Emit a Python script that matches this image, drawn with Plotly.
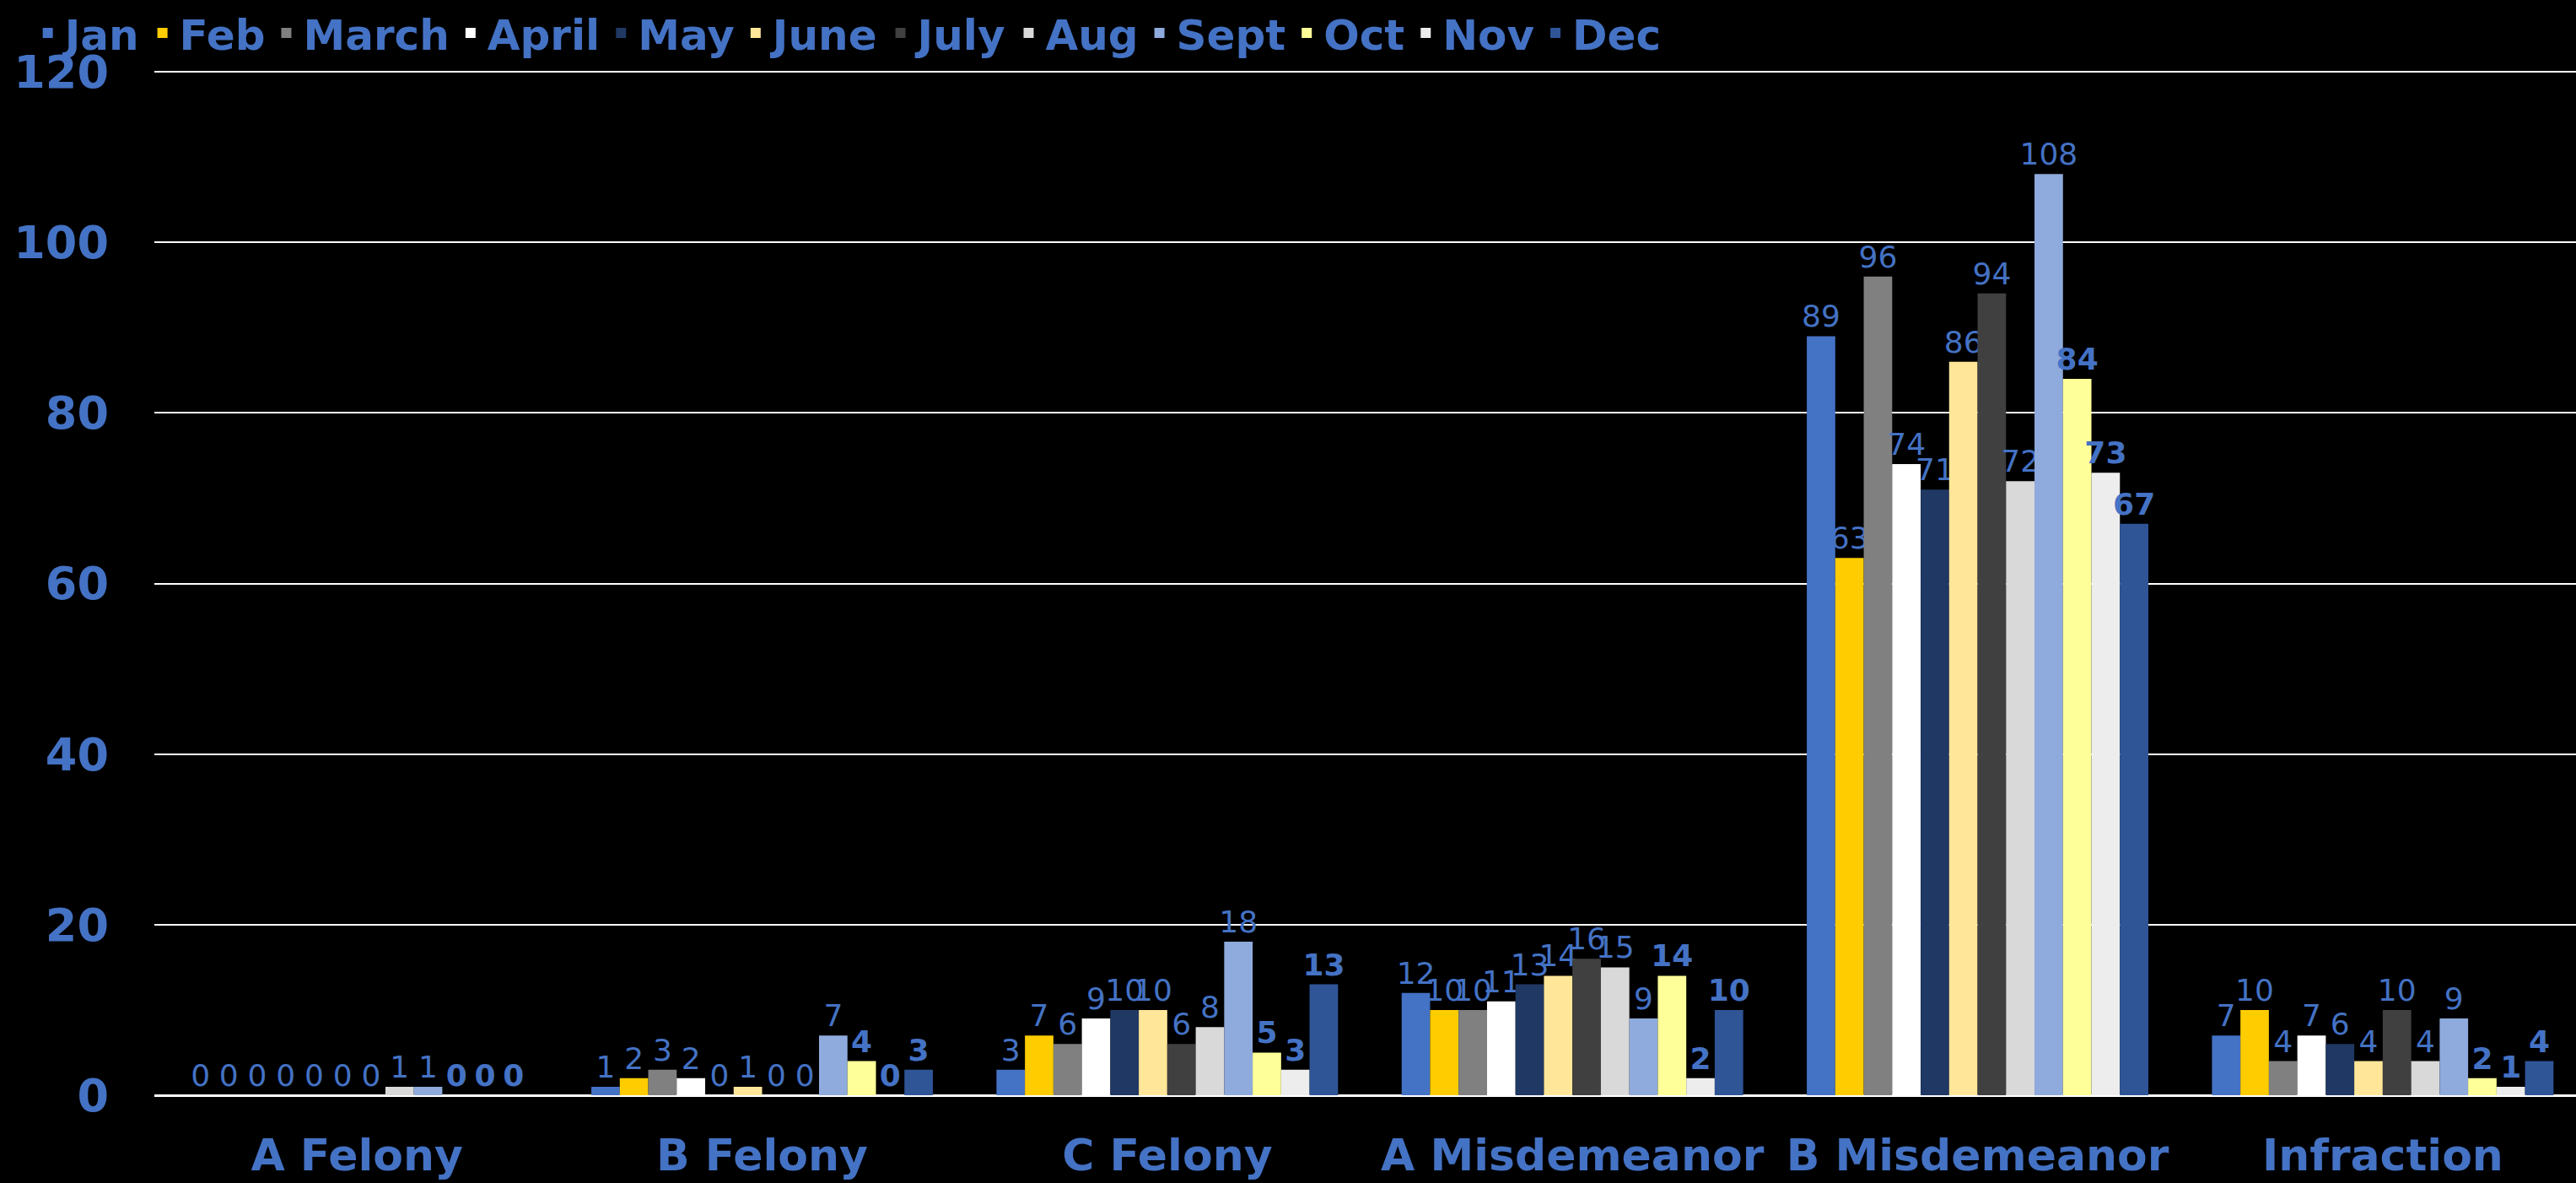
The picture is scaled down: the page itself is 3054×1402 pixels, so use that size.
import plotly.graph_objects as go

categories = ["A Felony", "B Felony", "C Felony", "A Misdemeanor", "B Misdemeanor", "Infraction"]
months = ["Jan", "Feb", "March", "April", "May", "June", "July", "Aug", "Sept", "Oct", "Nov", "Dec"]

jan = [0, 1, 3, 12, 89, 7]
feb = [0, 2, 7, 10, 63, 10]
march = [0, 3, 6, 10, 96, 4]
april = [0, 2, 9, 11, 74, 7]
may = [0, 0, 10, 13, 71, 6]
june = [0, 1, 10, 14, 86, 4]
july = [0, 0, 6, 16, 94, 10]
aug = [1, 0, 8, 15, 72, 4]
sept = [1, 7, 18, 9, 108, 9]
oct_ = [0, 4, 5, 14, 84, 2]
nov = [0, 0, 3, 2, 73, 1]
dec = [0, 3, 13, 10, 67, 4]

series = [jan, feb, march, april, may, june, july, aug, sept, oct_, nov, dec]
colors = ["#4472C4", "#FFCC00", "#808080", "#FFFFFF", "#203864", "#FFE699",
          "#404040", "#D9D9D9", "#8FAADC", "#FFFF99", "#EDEDED", "#2F5597"]
bold_labels = [False] * 9 + [True] * 3

LABEL_BLUE = "#4472C4"
FONT = "DejaVu Sans"

fig = go.Figure()
for name, vals, col, bold in zip(months, series, colors, bold_labels):
    fig.add_trace(go.Bar(
        name=name, x=categories, y=vals,
        marker=dict(color=col, line=dict(width=0)),
        text=[str(v) for v in vals],
        textposition="outside",
        constraintext="none",
        cliponaxis=False,
        textfont=dict(family=FONT, size=36, color=LABEL_BLUE,
                      weight="bold" if bold else "normal"),
    ))

fig.update_layout(
    barmode="group",
    bargap=0.157,
    bargroupgap=0,
    paper_bgcolor="black",
    plot_bgcolor="black",
    font=dict(family=FONT, color=LABEL_BLUE),
    margin=dict(l=183, r=0, t=79, b=104, autoexpand=False),
    showlegend=True,
    legend=dict(
        orientation="h",
        xref="container", yref="container",
        x=0.012, y=1.0, xanchor="left", yanchor="top",
        font=dict(family=FONT, size=50, color=LABEL_BLUE, weight="bold"),
        itemwidth=30,
        tracegroupgap=0,
        bgcolor="rgba(0,0,0,0)",
    ),
    xaxis=dict(
        range=[-0.5, 5.477],
        showgrid=False,
        showline=False,
        zeroline=False,
        tickfont=dict(family=FONT, size=52, color=LABEL_BLUE, weight="bold"),
        ticks="",
        ticklabelstandoff=36,
    ),
    yaxis=dict(
        range=[0, 120.6],
        tickvals=[0, 20, 40, 60, 80, 100, 120],
        showgrid=True,
        gridcolor="white",
        gridwidth=2,
        zeroline=True,
        zerolinecolor="white",
        zerolinewidth=3,
        showline=False,
        ticks="",
        ticklabelstandoff=53,
        tickfont=dict(family=FONT, size=54, color=LABEL_BLUE, weight="bold"),
    ),
)

fig.write_html("out.html", config={"displayModeBar": False})

# remove default page margins so the chart fills the window
with open("out.html", "r", encoding="utf-8") as f:
    html = f.read()
style = "<style>html,body{margin:0;padding:0;height:100%;background:#000;overflow:hidden}</style>"
html = html.replace("<head>", "<head>" + style, 1)
with open("out.html", "w", encoding="utf-8") as f:
    f.write(html)
